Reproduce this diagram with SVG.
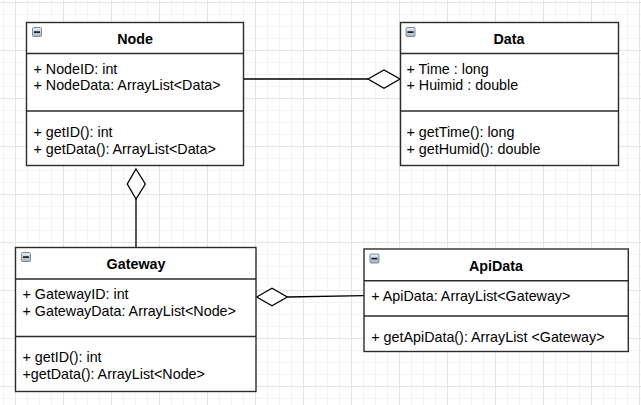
<svg xmlns="http://www.w3.org/2000/svg" width="641" height="405" viewBox="0 0 641 405">
<defs>
<pattern id="grid" x="15" y="2" width="48" height="48" patternUnits="userSpaceOnUse">
<path d="M12.5 0V48M24.5 0V48M36.5 0V48M0 12.5H48M0 24.5H48M0 36.5H48" stroke="#f3f3f3" stroke-width="1" fill="none"/>
<path d="M0.5 0V48M0 0.5H48" stroke="#e4e4e4" stroke-width="1" fill="none"/>
</pattern>
<linearGradient id="ic" x1="0" y1="0" x2="0" y2="1">
<stop offset="0" stop-color="#e8ecf2"/>
<stop offset="1" stop-color="#a9b3c0"/>
</linearGradient>
<g id="icon">
<rect x="0.5" y="0.5" width="9" height="9" rx="1" fill="url(#ic)" stroke="#7d8a99" stroke-width="1"/>
<rect x="2" y="4.3" width="6" height="1.6" fill="#111"/>
</g>
</defs>
<style>
.box{fill:#fff;stroke:#2b2b2b;stroke-width:1.4}
.sep{stroke:#2b2b2b;stroke-width:1.4;fill:none}
.t{font-family:"Liberation Sans",Arial,sans-serif;font-size:14.3px;fill:#000}
.h{font-family:"Liberation Sans",Arial,sans-serif;font-size:14.3px;font-weight:bold;fill:#000;text-anchor:middle}
.ln{stroke:#000;stroke-width:1.3;fill:none}
.dia{fill:#fff;stroke:#000;stroke-width:1.3}
</style>
<rect width="641" height="405" fill="#fff"/>
<rect width="641" height="405" fill="url(#grid)"/>

<g id="connectors">
<line class="ln" x1="243.5" y1="79" x2="368" y2="79"/>
<polygon class="dia" points="368,79 384,70 400,79 384,88.3"/>
<line class="ln" x1="136" y1="199" x2="136" y2="247.5"/>
<polygon class="dia" points="136,169 145.3,184 136,199 127.3,184"/>
<line class="ln" x1="287.3" y1="297" x2="364" y2="295.7"/>
<polygon class="dia" points="256.7,297 272,288.3 287.3,297 272,305.7"/>
</g>

<g id="node-Node">
<rect class="box" x="26.5" y="22.5" width="217" height="143"/>
<line class="sep" x1="26.5" y1="53.5" x2="243.5" y2="53.5"/>
<line class="sep" x1="26.5" y1="111" x2="243.5" y2="111"/>
<use href="#icon" x="32" y="27"/>
<text class="h" x="135" y="43.5">Node</text>
<text class="t" x="33.5" y="73.5">+ NodeID: int</text>
<text class="t" x="33.5" y="90.3">+ NodeData: ArrayList&lt;Data&gt;</text>
<text class="t" x="33.5" y="136.7">+ getID(): int</text>
<text class="t" x="33.5" y="153.5">+ getData(): ArrayList&lt;Data&gt;</text>
</g>

<g id="node-Data">
<rect class="box" x="400.5" y="22.5" width="218" height="143"/>
<line class="sep" x1="400.5" y1="53.5" x2="618.5" y2="53.5"/>
<line class="sep" x1="400.5" y1="111" x2="618.5" y2="111"/>
<use href="#icon" x="405.5" y="27"/>
<text class="h" x="509" y="43.5">Data</text>
<text class="t" x="406.5" y="73.5">+ Time : long</text>
<text class="t" x="406.5" y="90.3">+ Huimid : double</text>
<text class="t" x="406.5" y="136.7">+ getTime(): long</text>
<text class="t" x="406.5" y="153.5">+ getHumid(): double</text>
</g>

<g id="node-Gateway">
<rect class="box" x="15.5" y="247.5" width="240.5" height="144"/>
<line class="sep" x1="15.5" y1="279" x2="256" y2="279"/>
<line class="sep" x1="15.5" y1="336.5" x2="256" y2="336.5"/>
<use href="#icon" x="21" y="252"/>
<text class="h" x="136" y="268.7">Gateway</text>
<text class="t" x="22.5" y="299.3">+ GatewayID: int</text>
<text class="t" x="22.5" y="316.3">+ GatewayData: ArrayList&lt;Node&gt;</text>
<text class="t" x="22.5" y="361.7">+ getID(): int</text>
<text class="t" x="22.5" y="378.5">+getData(): ArrayList&lt;Node&gt;</text>
</g>

<g id="node-ApiData">
<rect class="box" x="364" y="249" width="264.3" height="102.5"/>
<line class="sep" x1="364" y1="280.7" x2="628.3" y2="280.7"/>
<line class="sep" x1="364" y1="316" x2="628.3" y2="316"/>
<use href="#icon" x="369.5" y="253.5"/>
<text class="h" x="496" y="270.7">ApiData</text>
<text class="t" x="371.3" y="300.7">+ ApiData: ArrayList&lt;Gateway&gt;</text>
<text class="t" x="371.3" y="341.7">+ getApiData(): ArrayList &lt;Gateway&gt;</text>
</g>
</svg>
